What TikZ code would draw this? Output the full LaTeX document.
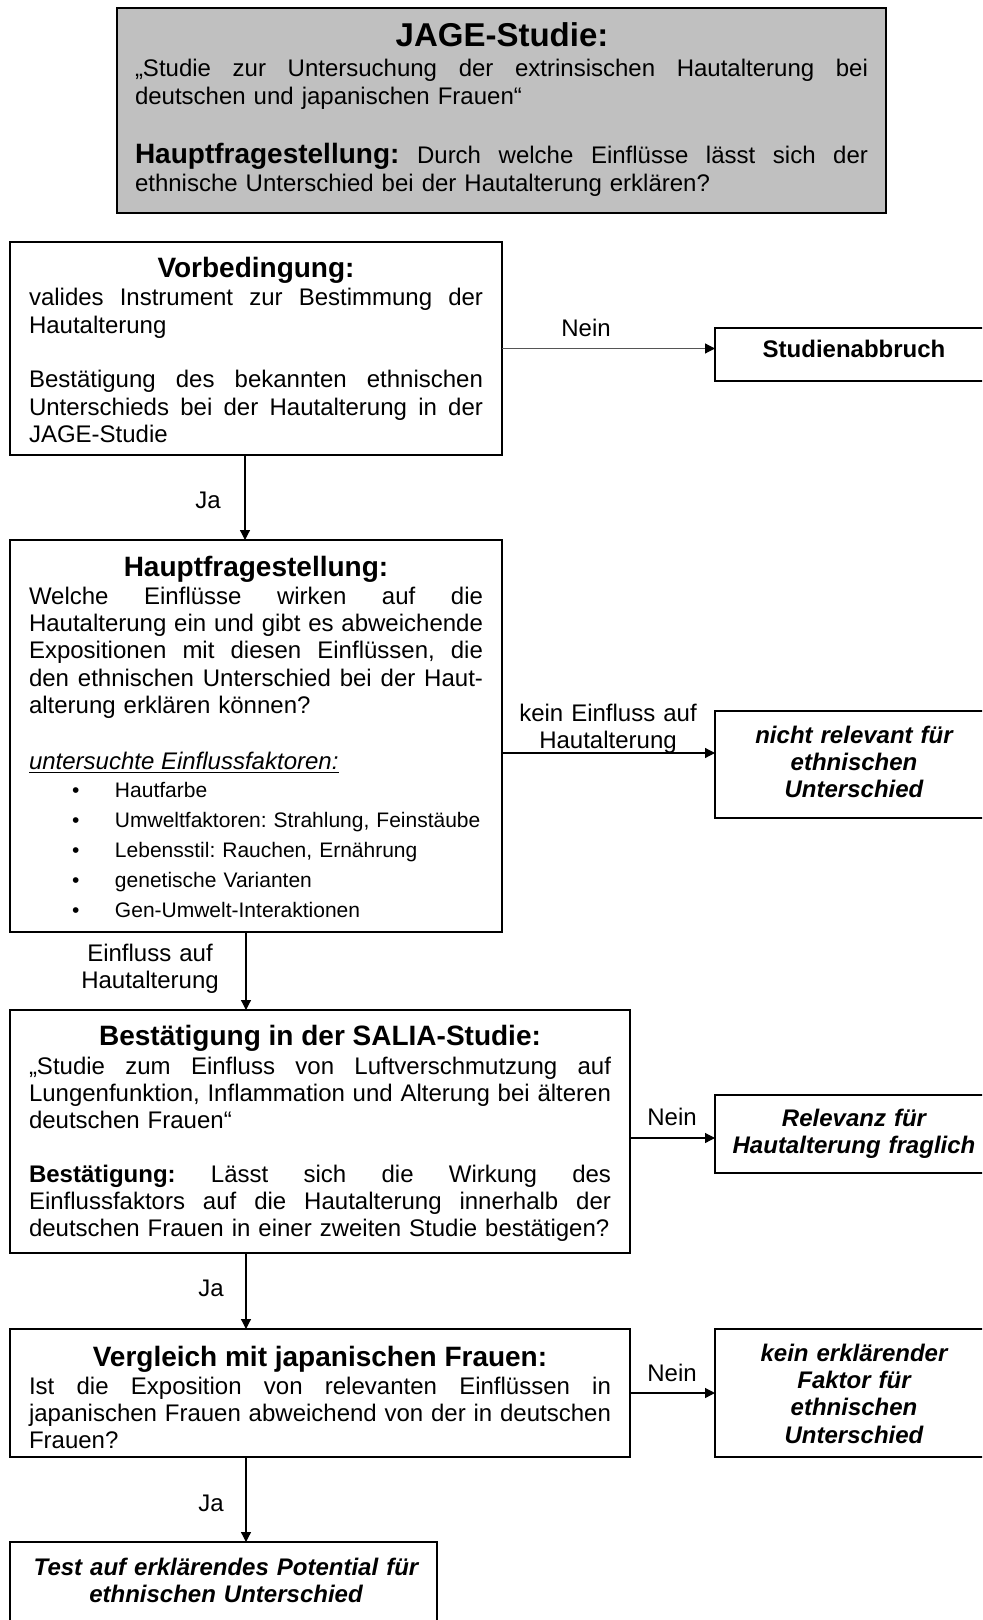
\documentclass[tikz,border=0pt]{standalone}
\usepackage{fontspec}
\setmainfont{Liberation Sans}
\usetikzlibrary{fit,arrows.meta}
\definecolor{boxgray}{RGB}{192,192,192}
\definecolor{arrgray}{RGB}{85,85,85}
\newcommand{\bodyfont}{\fontsize{12}{13.7}\selectfont\frenchspacing}
\newcommand{\headfont}{\fontsize{14}{16}\selectfont\bfseries}
\newcommand{\jl}[2][227pt]{{\spaceskip=3.33pt plus 1fil\xspaceskip=3.33pt plus 1fil\makebox[#1][s]{#2}}}
\newcommand{\bul}{\makebox[21.5pt][l]{•}}
\begin{document}
\frenchspacing
\begin{tikzpicture}[x=0.5pt,y=-0.5pt,
  box/.style={draw=black, line width=1pt, inner sep=0pt, outer sep=0pt},
  body/.style={anchor=base west, inner sep=0pt, outer sep=0pt, font=\bodyfont, align=left},
  head/.style={anchor=base, inner sep=0pt, outer sep=0pt, font=\headfont},
  lab/.style={anchor=base, inner sep=0pt, outer sep=0pt, font=\bodyfont, align=center, text width=100pt},
  res/.style={anchor=base, inner sep=0pt, outer sep=0pt, font=\bodyfont\bfseries\itshape, align=center, text width=200pt},
  arr/.style={line width=0.6pt, -{Triangle[length=5pt,width=5pt,color=black]}},
]
\useasboundingbox (0,0) rectangle (982,1620);
\clip (0,0) rectangle (982,1620);
\fill[white] (0,0) rectangle (982,1620);

% top box
\node[box, fill=boxgray, line width=1.3pt, fit={(117,8)(886,213)}] (jage) {};
\node[head, font=\fontsize{16.5}{19}\selectfont\bfseries] (jaget) at (502,47) {JAGE-Studie:};
\node[body, text width=366.5pt] (jage1) at (135,77) {\jl[366.5pt]{„Studie zur Untersuchung der extrinsischen Hautalterung bei}\\deutschen und japanischen Frauen“};
\node[body, text width=366.5pt] (jage2) at (135,164) {\jl[366.5pt]{{\headfont Hauptfragestellung:} Durch welche Einflüsse lässt sich der}\\ethnische Unterschied bei der Hautalterung erklären?};

% Vorbedingung
\node[box, fit={(10,242)(502,455)}] (vor) {};
\node[head] (vort) at (256,278) {Vorbedingung:};
\node[body, text width=227pt] (vor1) at (29,306) {\jl{valides Instrument zur Bestimmung der}\\Hautalterung};
\node[body, text width=227pt] (vor2) at (29,388) {\jl{Bestätigung des bekannten ethnischen}\\\jl{Unterschieds bei der Hautalterung in der}\\JAGE-Studie};

\node[box, fit={(715,328)(995,381)}] (stud) {};
\node[res, font=\bodyfont\bfseries] (studt) at (854,358) {Studienabbruch};
\node[lab] (nein1) at (586,337) {Nein};

% Hauptfragestellung
\node[box, fit={(10,540)(502,932)}] (haupt) {};
\node[head] (hauptt) at (256,576) {Hauptfragestellung:};
\node[body, text width=227pt] (haupt1) at (29,604) {\jl{Welche Einflüsse wirken auf die}\\\jl{Hautalterung ein und gibt es abweichende}\\\jl{Expositionen mit diesen Einflüssen, die}\\\jl{den ethnischen Unterschied bei der Haut-}\\alterung erklären können?};
\node[body] (haupt2) at (29,769) {\itshape\underline{untersuchte Einflussfaktoren:}};
\node[body, text width=240pt, font=\fontsize{10.5}{15.1}\selectfont\frenchspacing] (haupt3) at (72,797) {\bul Hautfarbe\\\bul Umweltfaktoren: Strahlung, Feinstäube\\\bul Lebensstil: Rauchen, Ernährung\\\bul genetische Varianten\\\bul Gen-Umwelt-Interaktionen};

\node[box, fit={(715,711)(995,818)}] (nr) {};
\node[res] (nrt) at (854,743) {nicht relevant für\\ethnischen\\Unterschied};
\node[lab] (kein1) at (608,721) {kein Einfluss auf\\Hautalterung};

\node[lab] (ja1) at (208,508) {Ja};
\node[lab] (einfl) at (150,961) {Einfluss auf\\Hautalterung};

% SALIA
\node[box, fit={(10,1010)(630,1253)}] (salia) {};
\node[head] (saliat) at (320,1045) {Bestätigung in der SALIA-Studie:};
\node[body, text width=291pt] (salia1) at (29,1074) {\jl[291pt]{„Studie zum Einfluss von Luftverschmutzung auf}\\\jl[291pt]{Lungenfunktion, Inflammation und Alterung bei älteren}\\deutschen Frauen“};
\node[body, text width=291pt] (salia2) at (29,1182) {\jl[291pt]{\textbf{Bestätigung:} Lässt sich die Wirkung des}\\\jl[291pt]{Einflussfaktors auf die Hautalterung innerhalb der}\\deutschen Frauen in einer zweiten Studie bestätigen?};

\node[box, fit={(715,1095)(995,1173)}] (rel) {};
\node[res] (relt) at (854,1126) {Relevanz für\\Hautalterung fraglich};
\node[lab] (nein2) at (672,1125) {Nein};

\node[lab] (ja2) at (211,1296) {Ja};

% Vergleich
\node[box, fit={(10,1329)(630,1457)}] (verg) {};
\node[head] (vergt) at (320,1366) {Vergleich mit japanischen Frauen:};
\node[body, text width=291pt] (verg1) at (29,1394) {\jl[291pt]{Ist die Exposition von relevanten Einflüssen in}\\\jl[291pt]{japanischen Frauen abweichend von der in deutschen}\\Frauen?};

\node[box, fit={(715,1329)(995,1457)}] (kein) {};
\node[res] (keint) at (854,1361) {kein erklärender\\Faktor für\\ethnischen\\Unterschied};
\node[lab] (nein3) at (672,1381) {Nein};

\node[lab] (ja3) at (211,1511) {Ja};

\node[box, fit={(10,1542)(437,1640)}] (test) {};
\node[res] (testt) at (226,1575) {Test auf erklärendes Potential für\\ethnischen Unterschied};

% connectors
\draw[arr, draw=arrgray] (vor.east) -- (vor.east -| stud.west);
\draw[arr] ([yshift=-8.5pt]haupt.east) -- ([yshift=-8.5pt]haupt.east -| nr.west);
\draw[arr] ([yshift=-3.25pt]salia.east) -- ([yshift=-3.25pt]salia.east -| rel.west);
\draw[arr] (verg.east) -- (verg.east -| kein.west);
\draw[arr] ([xshift=-5.5pt]vor.south) -- ([xshift=-5.5pt]vor.south |- haupt.north);
\draw[arr] ([xshift=-5pt]haupt.south) -- ([xshift=-5pt]haupt.south |- salia.north);
\draw[arr] ([xshift=-37pt]salia.south) -- ([xshift=-37pt]salia.south |- verg.north);
\draw[arr] ([xshift=-37pt]verg.south) -- ([xshift=-37pt]verg.south |- test.north);
\end{tikzpicture}
\end{document}
